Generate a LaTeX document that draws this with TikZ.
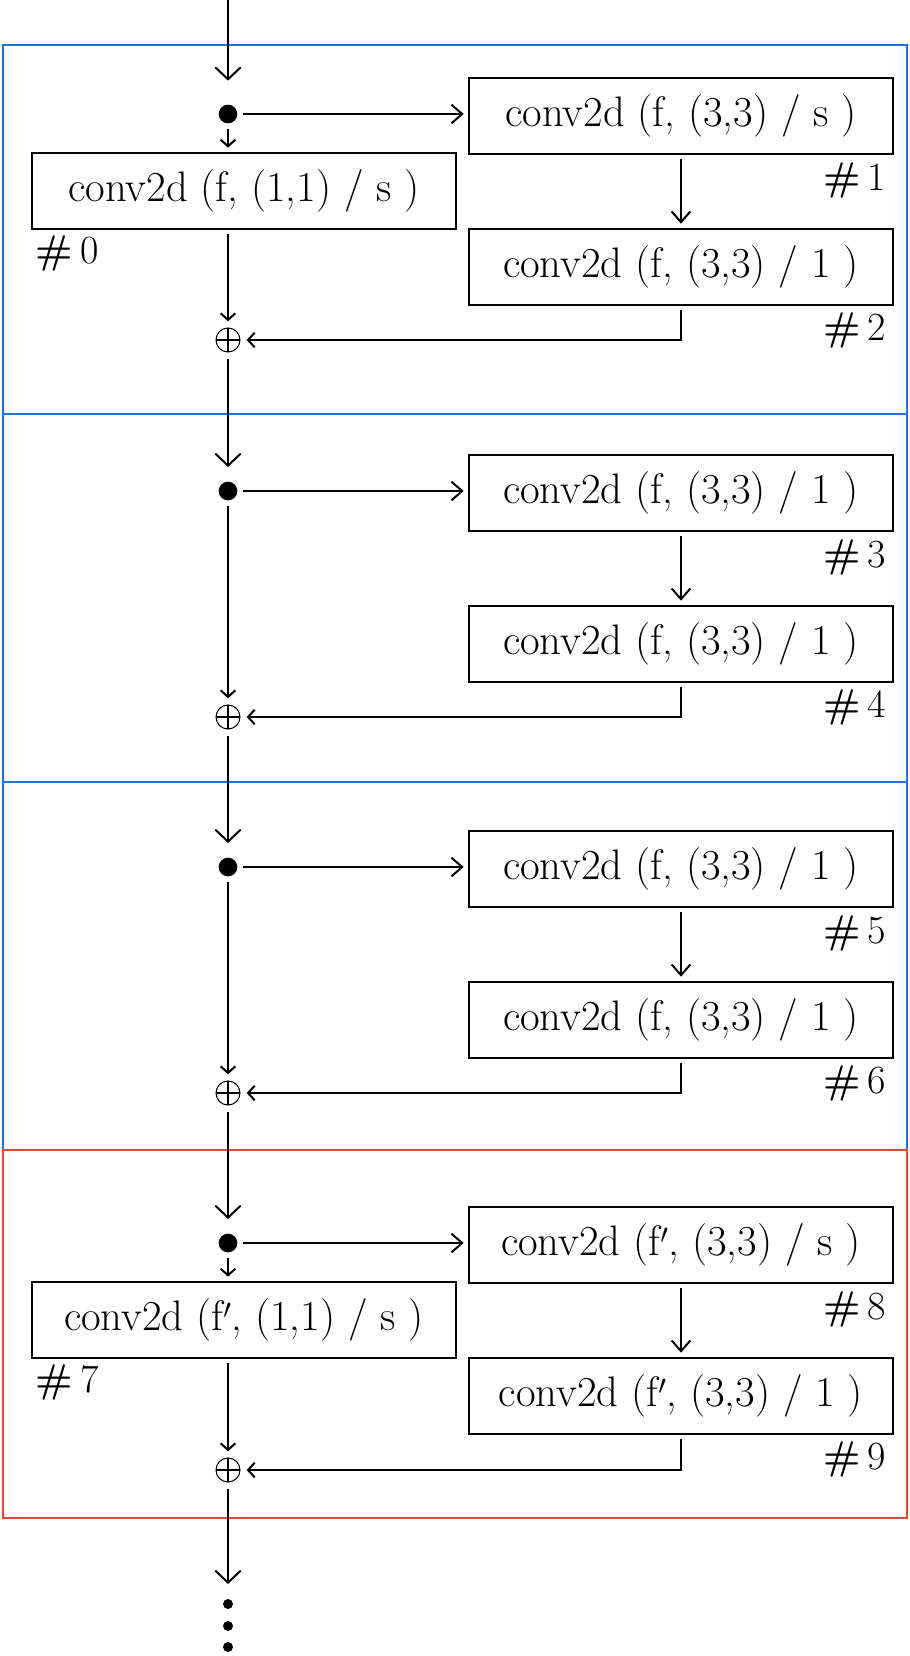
\documentclass[tikz,border=0pt]{standalone}
\usepackage{fontspec}
\usepackage{tikz}
\usetikzlibrary{arrows.meta,positioning,calc}
\definecolor{bleuBloc}{RGB}{26,115,232}
\definecolor{rougeBloc}{RGB}{234,67,53}
\newcommand{\convfont}{\fontsize{32}{36}\selectfont}
\newcommand{\idfont}{\fontsize{30}{34}\selectfont}

\begin{document}
\begin{tikzpicture}[x=0.75pt,y=-0.75pt,line width=1.5pt,
  conv/.style={draw,line width=1.5pt,minimum width=318pt,minimum height=57pt,
               inner sep=0pt,outer sep=4pt,font=\convfont},
  junction/.style={circle,fill,minimum size=14pt,inner sep=0pt,outer sep=4pt},
  addop/.style={circle,draw,line width=0.8pt,minimum size=18pt,inner sep=0pt,outer sep=5pt,
                path picture={\draw[line width=0.8pt]
                  (path picture bounding box.north)--(path picture bounding box.south)
                  (path picture bounding box.west)--(path picture bounding box.east);}},
  idlabel/.style={font=\idfont,inner sep=0pt},
  bigarrow/.style={-{Straight Barb[length=9pt,width=19pt]}},
  midarrow/.style={-{Straight Barb[length=8pt,width=14pt]}},
  smallarrow/.style={-{Straight Barb[length=5pt,width=11pt]}},
  bloc/.style={line width=2.1pt}]
  \useasboundingbox (0,0) rectangle (910,1656);

  % Blocs
  \draw[bloc,bleuBloc] (3,45) rectangle (907,414);
  \draw[bloc,bleuBloc] (3,414) rectangle (907,782);
  \draw[bloc,bleuBloc] (3,782) rectangle (907,1150);
  \draw[bloc,rougeBloc] (3,1150) rectangle (907,1518);

  % Bloc 1 (projection)
  \coordinate (entree) at (228,0);
  \node[junction] (split1) at (228,114) {};
  \node[conv] (conv1) at (681,116) {conv2d (f, (3,3) / s )};
  \node[conv] (conv2) at (681,267) {conv2d (f, (3,3) / 1 )};
  \node[conv] (conv0) at (244,191) {conv2d (f, (1,1) / s )};
  \node[addop] (add1) at (228,340) {};
  \node[idlabel,anchor=east] (lab1) at (887,180) {\textbf{\#}\,1};
  \node[idlabel,anchor=east] (lab2) at (887,330) {\textbf{\#}\,2};
  \node[idlabel,anchor=west] (lab0) at (35,253) {\textbf{\#}\,0};

  \draw[bigarrow,shorten >=14pt] (entree) -- (split1);
  \draw[midarrow] (split1) -- (split1 -| conv1.west);
  \draw[smallarrow] (split1) -- (split1 |- conv0.north);
  \draw[midarrow] (conv1) -- (conv2);
  \draw[smallarrow] (conv0.south -| split1) -- (add1);
  \draw[smallarrow] (conv2) |- (add1);

  % Blocs 2 et 3 (identite)
  \foreach \i/\y/\a/\b in {2/491/3/4, 3/867/5/6} {
    \node[junction] (split\i) at (228,\y) {};
    \node[conv] (conv\a) at (681,\y+2) {conv2d (f, (3,3) / 1 )};
    \node[conv] (conv\b) at (681,\y+153) {conv2d (f, (3,3) / 1 )};
    \node[addop] (add\i) at (228,\y+226) {};
    \node[idlabel,anchor=east] (lab\a) at (887,\y+66) {\textbf{\#}\,\a};
    \node[idlabel,anchor=east] (lab\b) at (887,\y+216) {\textbf{\#}\,\b};
    \draw[midarrow] (split\i) -- (split\i -| conv\a.west);
    \draw[midarrow] (conv\a) -- (conv\b);
    \draw[smallarrow] (split\i) -- (add\i);
    \draw[smallarrow] (conv\b) |- (add\i);
  }
  \draw[bigarrow,shorten >=7pt] (add1) -- (split2);
  \draw[bigarrow,shorten >=7pt] (add2) -- (split3);

  % Bloc 4 (f')
  \node[junction] (split4) at (228,1243) {};
  \node[conv] (conv8) at (681,1245) {conv2d (f$'$, (3,3) / s )};
  \node[conv] (conv9) at (681,1396) {conv2d (f$'$, (3,3) / 1 )};
  \node[conv] (conv7) at (244,1320) {conv2d (f$'$, (1,1) / s )};
  \node[addop] (add4) at (228,1470) {};
  \node[idlabel,anchor=east] (lab8) at (887,1309) {\textbf{\#}\,8};
  \node[idlabel,anchor=east] (lab9) at (887,1459) {\textbf{\#}\,9};
  \node[idlabel,anchor=west] (lab7) at (35,1382) {\textbf{\#}\,7};

  \draw[bigarrow,shorten >=7pt] (add3) -- (split4);
  \draw[midarrow] (split4) -- (split4 -| conv8.west);
  \draw[smallarrow] (split4) -- (split4 |- conv7.north);
  \draw[midarrow] (conv8) -- (conv9);
  \draw[smallarrow] (conv7.south -| split4) -- (add4);
  \draw[smallarrow] (conv9) |- (add4);

  % Suite
  \coordinate (sortie) at (228,1584);
  \draw[bigarrow] (add4) -- (sortie);
  \foreach \y in {1604,1626,1647}
    \fill (228,\y) circle (3.75pt);
\end{tikzpicture}
\end{document}
